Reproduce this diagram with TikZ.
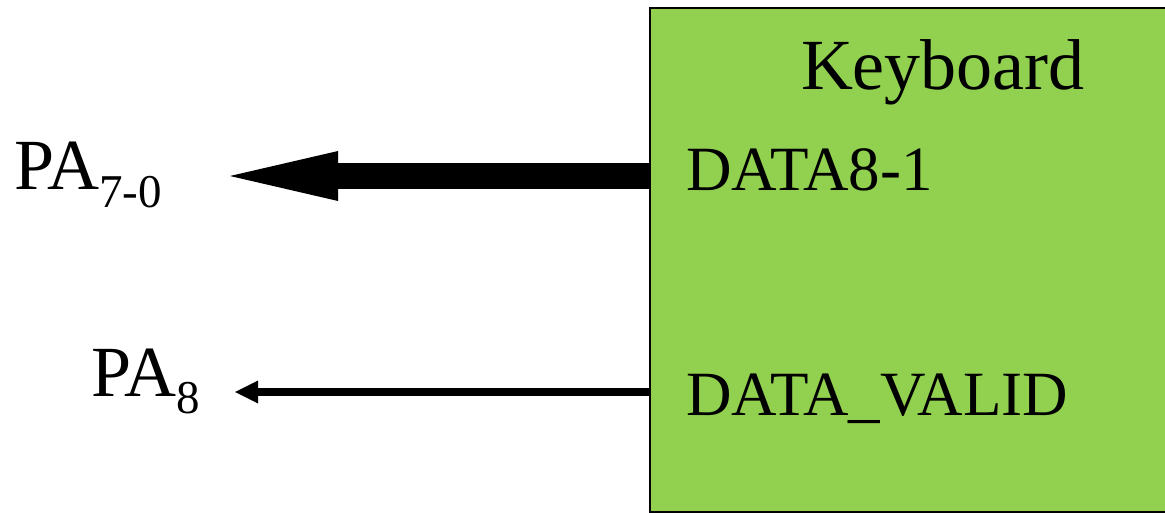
\documentclass[tikz,border=0pt]{standalone}
\usepackage{fontspec}
\setmainfont{Liberation Serif}
\usetikzlibrary{arrows.meta}
\definecolor{kbgreen}{HTML}{92D050}
\tikzset{
  lbl/.style={inner sep=0pt, outer sep=0pt, anchor=base west},
  kbbox/.style={draw=black, line width=2pt, fill=kbgreen, inner sep=0pt, outer sep=0pt},
  busarrow/.style={line width=26pt, -{Triangle[length=108pt, width=50pt, line width=0pt]}},
  sigarrow/.style={line width=8pt, -{Triangle[length=23pt, width=23pt, line width=0pt]}}
}
\newcommand{\bigtext}{\fontsize{72}{80}\selectfont}
\newcommand{\midtext}{\fontsize{63}{70}\selectfont}
\newcommand{\subtext}{\fontsize{47}{52}\selectfont}
\begin{document}
\begin{tikzpicture}[x=1pt, y=-1pt]
  \useasboundingbox (0,0) rectangle (1165,513);
  \clip (0,0) rectangle (1165,513);
  % keyboard block (runs past the right edge)
  \node[kbbox, minimum width=525pt, minimum height=503.5pt, anchor=north west] (kb) at (650,8) {};
  \node[lbl] (title) at (801,90) {\bigtext Keyboard};
  \node[lbl] (data) at (686,191) {\midtext DATA8-1};
  \node[lbl] (valid) at (686,415) {\midtext DATA\_VALID};
  % port labels
  \node[lbl] (pa70) at (14,190) {\bigtext PA\raisebox{-18pt}{\subtext 7-0}};
  \node[lbl] (pa8) at (91,396) {\bigtext PA\raisebox{-17pt}{\subtext 8}};
  % arrow tips and shaft starts
  \coordinate (busend) at (230,176);
  \coordinate (sigend) at (235,392);
  \coordinate (busstart) at (kb.west |- busend);
  \coordinate (sigstart) at (kb.west |- sigend);
  \draw[busarrow] (busstart) -- (busend);
  \draw[sigarrow] (sigstart) -- (sigend);
\end{tikzpicture}
\end{document}
